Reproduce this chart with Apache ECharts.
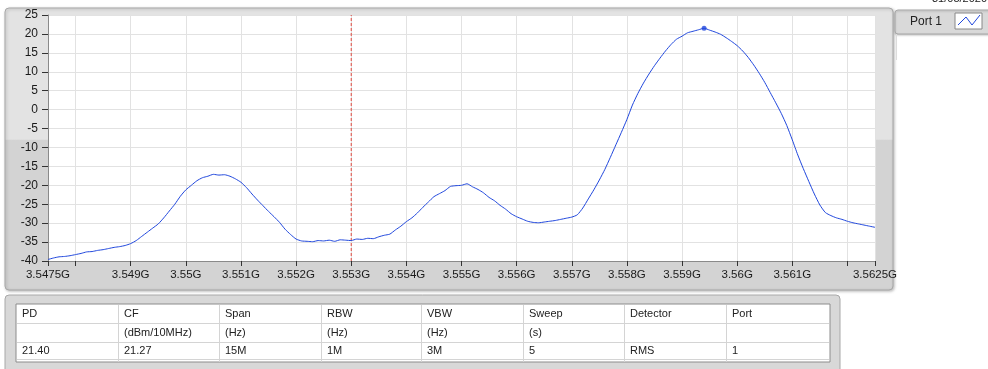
<!DOCTYPE html>
<html><head><meta charset="utf-8">
<script src="https://cdn.jsdelivr.net/npm/echarts@6/dist/echarts.min.js"></script>
<style>html,body{margin:0;padding:0;background:#fff;overflow:hidden}#c{width:988px;height:369px}</style>
</head><body><div id="c"></div>
<script>
// ---- data ----
const freqMHz = [
3547.5,3547.6,3547.7,3547.8,3547.9,3548.0,3548.1,3548.2,3548.3,3548.4,3548.5,3548.6,3548.7,3548.8,3548.9,
3549.0,3549.1,3549.2,3549.3,3549.4,3549.5,3549.6,3549.7,3549.8,3549.9,
3550.0,3550.1,3550.2,3550.3,3550.4,3550.5,3550.6,3550.7,3550.8,3550.9,
3551.0,3551.1,3551.2,3551.3,3551.4,3551.5,3551.6,3551.7,3551.8,3551.9,
3552.0,3552.1,3552.2,3552.3,3552.4,3552.5,3552.6,3552.7,3552.8,3552.9,
3553.0,3553.1,3553.2,3553.3,3553.4,3553.5,3553.6,3553.7,3553.8,3553.9,
3554.0,3554.1,3554.2,3554.3,3554.4,3554.5,3554.6,3554.7,3554.8,3554.9,
3555.0,3555.1,3555.2,3555.3,3555.4,3555.5,3555.6,3555.7,3555.8,3555.9,
3556.0,3556.1,3556.2,3556.3,3556.4,3556.5,3556.6,3556.7,3556.8,3556.9,
3557.0,3557.1,3557.2,3557.3,3557.4,3557.5,3557.6,3557.7,3557.8,3557.9,
3558.0,3558.1,3558.2,3558.3,3558.4,3558.5,3558.6,3558.7,3558.8,3558.9,
3559.0,3559.1,3559.2,3559.3,3559.4,3559.5,3559.6,3559.7,3559.8,3559.9,
3560.0,3560.1,3560.2,3560.3,3560.4,3560.5,3560.6,3560.7,3560.8,3560.9,
3561.0,3561.1,3561.2,3561.3,3561.4,3561.5,3561.6,3561.7,3561.8,3561.9,
3562.0,3562.1,3562.2,3562.3,3562.4,3562.5
];
const powerDbm = [
-39.6,-39.2,-38.9,-38.8,-38.6,-38.3,-38.0,-37.6,-37.5,-37.2,-37.0,-36.7,-36.4,-36.2,-35.9,
-35.4,-34.6,-33.5,-32.4,-31.3,-30.2,-28.6,-26.8,-25.0,-22.9,
-21.2,-20.0,-18.8,-18.0,-17.6,-17.1,-17.3,-17.2,-17.6,-18.3,
-19.2,-20.6,-22.3,-23.9,-25.4,-26.9,-28.3,-29.8,-31.6,-33.0,
-34.2,-34.7,-34.8,-34.9,-34.6,-34.7,-34.5,-34.8,-34.4,-34.5,
-34.6,-34.2,-34.3,-34.0,-34.1,-33.6,-33.2,-32.9,-31.8,-30.8,
-29.6,-28.6,-27.3,-25.8,-24.4,-23.0,-22.2,-21.4,-20.3,-20.1,
-20.0,-19.6,-20.4,-21.1,-22.0,-23.2,-24.1,-25.3,-26.3,-27.5,
-28.3,-28.9,-29.5,-29.8,-29.9,-29.7,-29.5,-29.3,-29.0,-28.7,
-28.4,-27.8,-26.0,-23.6,-21.2,-18.6,-15.8,-12.6,-9.3,-6.0,
-2.6,1.2,4.3,7.0,9.4,11.6,13.6,15.5,17.2,18.6,
19.4,20.3,20.7,21.1,21.5,21.0,20.5,19.9,19.0,18.0,
16.9,15.5,13.8,11.8,9.6,7.2,4.5,1.8,-1.0,-4.2,
-8.0,-12.0,-15.6,-19.0,-22.3,-25.2,-27.2,-28.0,-28.6,-29.0,
-29.5,-29.9,-30.2,-30.5,-30.8,-31.1
];
const xTickValues = [3547.5,3548,3549,3550,3551,3552,3553,3554,3555,3556,3557,3558,3559,3560,3561,3562,3562.5];
const xLabelValues = [3547.5,3549,3550,3551,3552,3553,3554,3555,3556,3557,3558,3559,3560,3561,3562.5];
const yMin = -40, yMax = 25, yStep = 5;
const cursorFreq = 3553;
const peakFreq = 3559.4, peakPower = 21.5;
const legendName = 'Port 1';
const dateText = '31/05/2020';
const tableHeaders = ['PD','CF','Span','RBW','VBW','Sweep','Detector','Port'];
const tableUnits = ['','(dBm/10MHz)','(Hz)','(Hz)','(Hz)','(s)','',''];
const tableValues = ['21.40','21.27','15M','1M','3M','5','RMS','1'];

// ---- layout / style ----
const FONT = 'Liberation Sans';
const lineColor = '#1f46dc';
const cursorColor = '#e0483f';
const colX = [16,118,219,321,421,523,624,726,828];
const rowY = [304,323,342,359];

const graphics = [];
// chart panel
graphics.push({type:'rect', z:-10, shape:{x:5,y:8,width:888,height:282,r:4},
  style:{fill:new echarts.graphic.LinearGradient(0,0,0,1,[
    {offset:0,color:'#e3e3e3'},{offset:0.465,color:'#e3e3e3'},
    {offset:0.47,color:'#d3d3d3'},{offset:1,color:'#d3d3d3'}]),
    stroke:'#a8a8a8', lineWidth:1, shadowColor:'rgba(0,0,0,0.25)', shadowBlur:3, shadowOffsetX:1, shadowOffsetY:1}});
// date text (cut at top)
graphics.push({type:'text', style:{x:932,y:-1,text:dateText,font:'11px '+FONT,fill:'#222',verticalAlign:'middle'}});
// legend panel
graphics.push({type:'rect', z:-10, shape:{x:895,y:10,width:100,height:24,r:3},
  style:{fill:'#d9d9d9',stroke:'#a8a8a8',lineWidth:1,shadowColor:'rgba(0,0,0,0.2)',shadowBlur:2,shadowOffsetY:1}});
graphics.push({type:'text', style:{x:910,y:22,text:legendName,font:'12px '+FONT,fill:'#222',verticalAlign:'middle'}});
graphics.push({type:'rect', shape:{x:955,y:13,width:27,height:16}, style:{fill:'#fff',stroke:'#888',lineWidth:1}});
graphics.push({type:'polyline', shape:{points:[[958,25],[966,17],[972,25],[980,15]]}, style:{stroke:lineColor,lineWidth:1,fill:null}});
graphics.push({type:'line', shape:{x1:896.5,y1:34,x2:896.5,y2:60}, style:{stroke:'#dcdcdc',lineWidth:1}});
// table panel
graphics.push({type:'rect', z:-10, shape:{x:5,y:295,width:835,height:80,r:4},
  style:{fill:'#d8d8d8',stroke:'#a8a8a8',lineWidth:1}});
graphics.push({type:'rect', shape:{x:16,y:304,width:814,height:58}, style:{fill:'#fff',stroke:'#8c8c8c',lineWidth:1}});
for (let i=1;i<rowY.length;i++) graphics.push({type:'line', shape:{x1:17,y1:rowY[i]+0.5,x2:829,y2:rowY[i]+0.5}, style:{stroke:'#d4d4d4',lineWidth:1}});
for (let i=1;i<colX.length-1;i++) graphics.push({type:'line', shape:{x1:colX[i]+0.5,y1:305,x2:colX[i]+0.5,y2:362}, style:{stroke:'#d4d4d4',lineWidth:1}});
const rows = [tableHeaders, tableUnits, tableValues];
rows.forEach((r,ri)=>{
  const cy = (rowY[ri]+rowY[ri+1])/2 + 0.5;
  r.forEach((t,ci)=>{ if(t) graphics.push({type:'text', style:{x:colX[ci]+6,y:cy,text:t,font:'11px '+FONT,fill:'#222',verticalAlign:'middle'}}); });
});

const chart = echarts.init(document.getElementById('c'), null, {renderer:'canvas'});
chart.setOption({
  animation:false,
  backgroundColor:'#fff',
  grid:{left:48, top:15, right:113, bottom:108, show:true, backgroundColor:'#fff', borderWidth:0},
  xAxis:{type:'value', min:3547.5, max:3562.5,
    axisLine:{show:true, onZero:false, lineStyle:{color:'#8a8a8a'}},
    axisTick:{show:true, length:5, customValues:xTickValues, lineStyle:{color:'#333'}},
    axisLabel:{customValues:xLabelValues, margin:8, color:'#1a1a1a', fontFamily:FONT, fontSize:11.5,
      formatter:v=>parseFloat((v/1000).toFixed(4))+'G'},
    splitLine:{show:true, lineStyle:{color:'#e2e2e2', width:1}}},
  yAxis:{type:'value', min:yMin, max:yMax, interval:yStep,
    axisLine:{show:true, onZero:false, lineStyle:{color:'#8a8a8a'}},
    axisTick:{show:true, length:6, lineStyle:{color:'#333'}},
    axisLabel:{margin:10, color:'#1a1a1a', fontFamily:FONT, fontSize:12},
    splitLine:{show:true, lineStyle:{color:'#e2e2e2', width:1}}},
  graphic:graphics,
  series:[
    {type:'line', name:'cursor', data:[[cursorFreq,yMin],[cursorFreq,yMax]], showSymbol:false, symbol:'none',
     silent:true, lineStyle:{color:cursorColor, type:[3,2], width:1}, itemStyle:{color:cursorColor}, z:2},
    {type:'line', name:legendName, data:freqMHz.map((f,i)=>[f,powerDbm[i]]), showSymbol:false, symbol:'none',
     lineStyle:{color:lineColor, width:1}, smooth:0.2, z:3},
    {type:'scatter', data:[[peakFreq,peakPower]], symbolSize:5, itemStyle:{color:lineColor}, z:4}
  ]
});
</script></body></html>
